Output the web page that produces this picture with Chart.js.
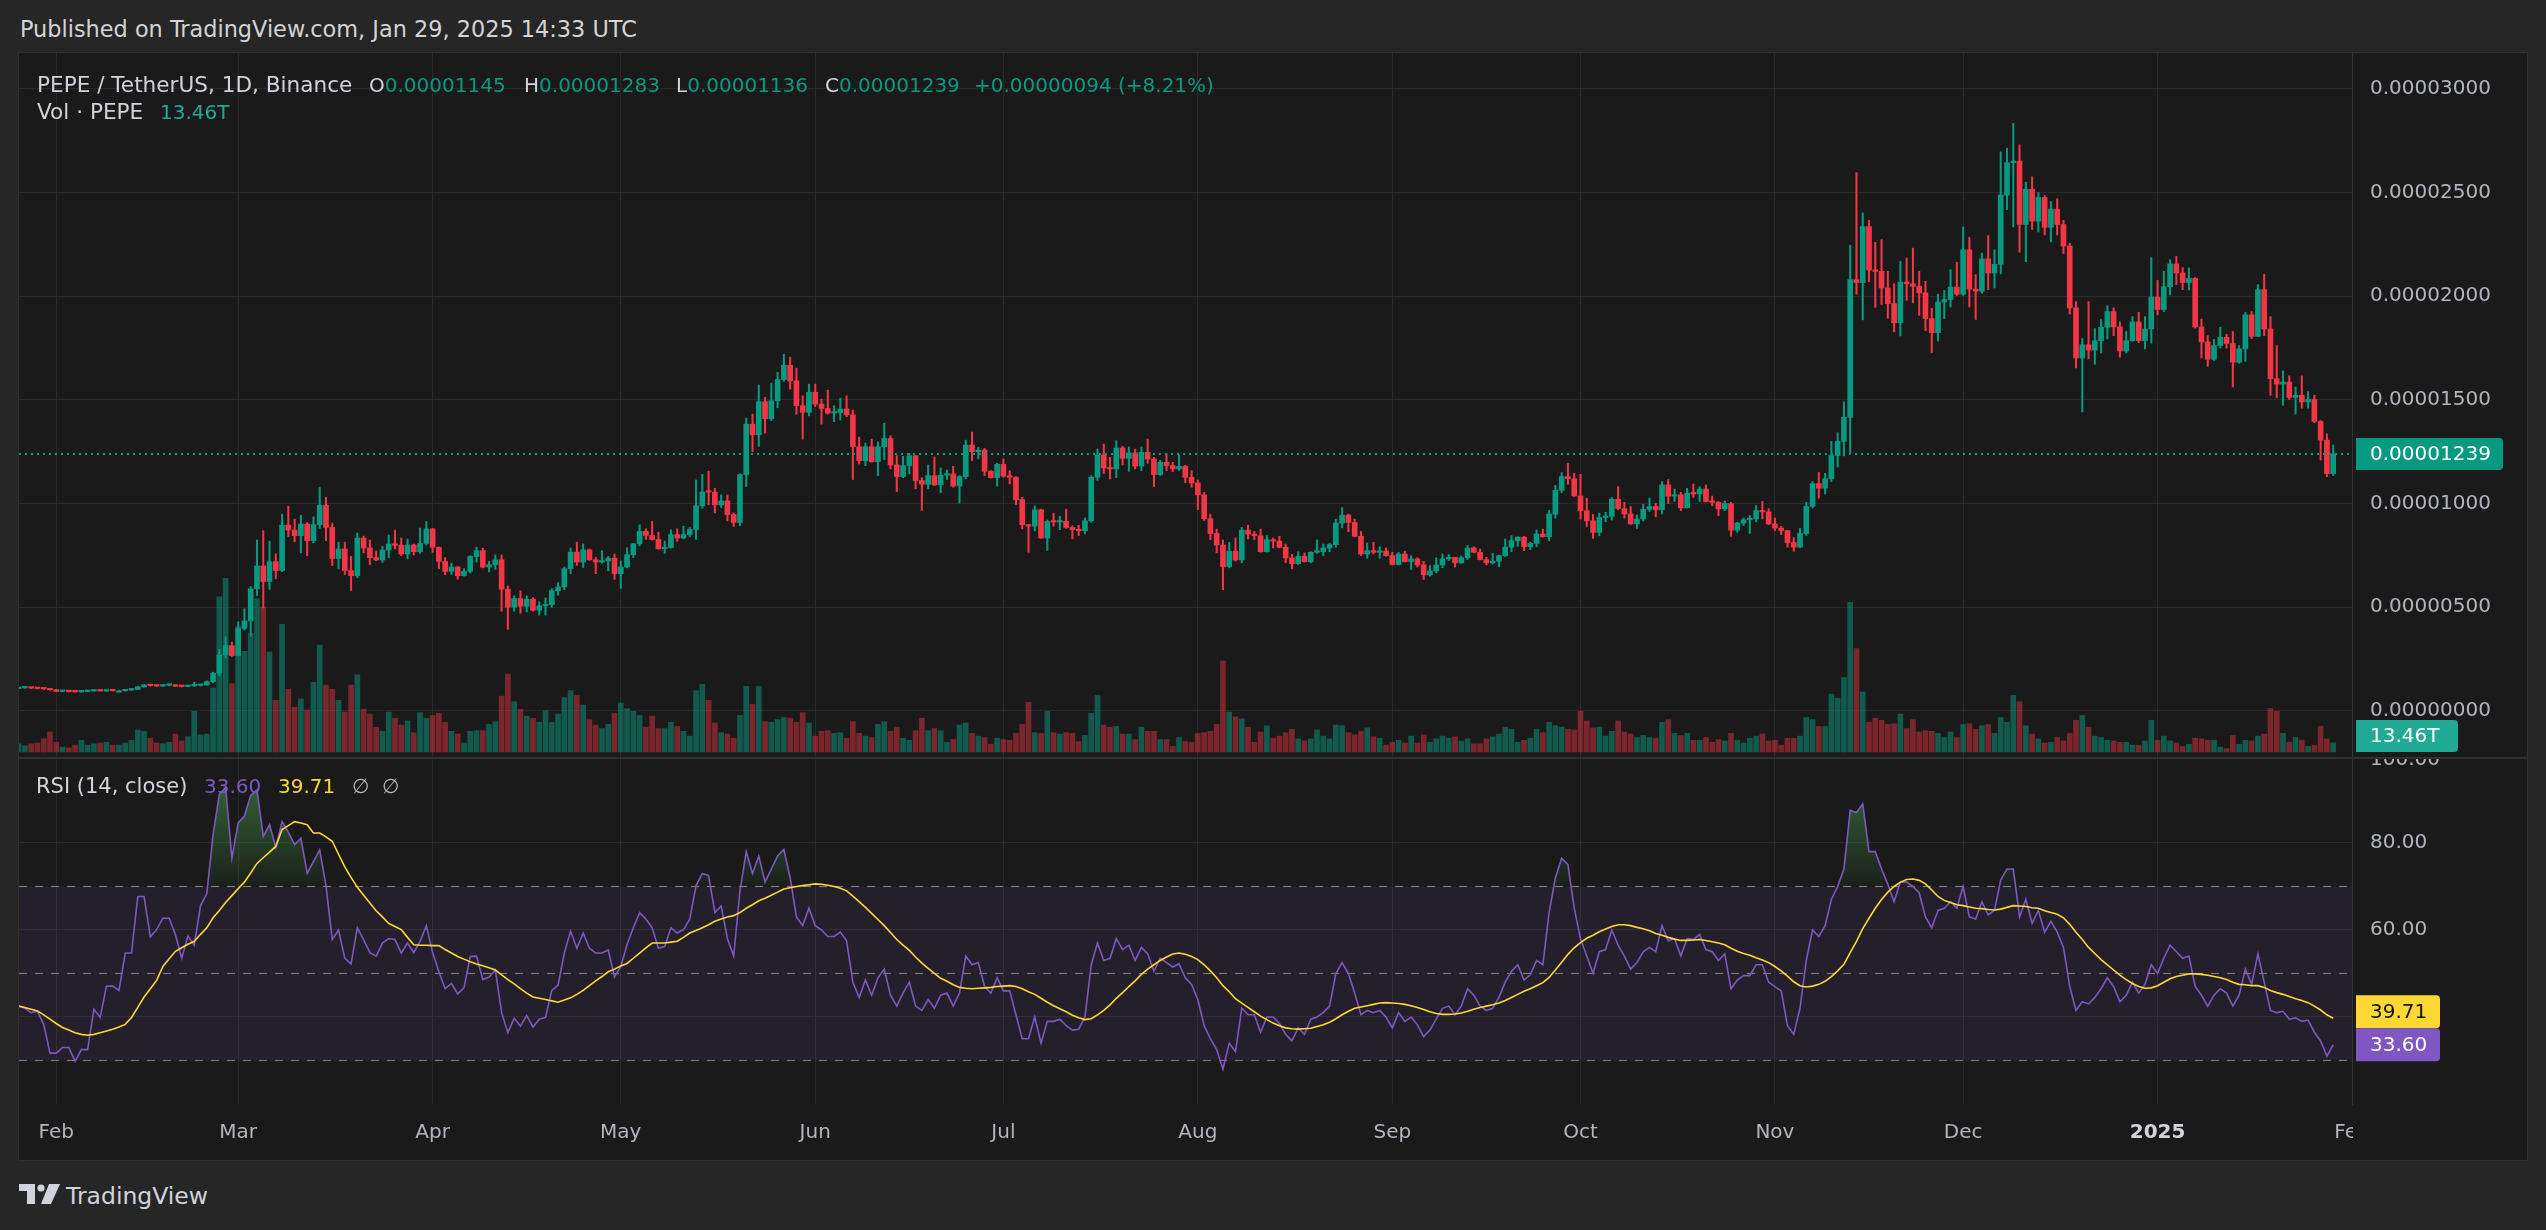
<!DOCTYPE html>
<html>
<head>
<meta charset="utf-8">
<script src="https://cdn.jsdelivr.net/npm/chart.js@4.4.1/dist/chart.umd.min.js"></script>
<style>
  html, body { margin: 0; padding: 0; background: #262626; width: 2546px; height: 1230px; overflow: hidden; font-family: 'DejaVu Sans', sans-serif; }
  #panel { position: absolute; left: 18px; top: 52px; width: 2510px; height: 1109px; background: #1a1a1a; border: 1px solid #303030; box-sizing: border-box; }
  canvas { position: absolute; }
  .t { position: absolute; white-space: nowrap; font-size: 20px; line-height: 24px; color: #d1d4dc; }
  .g { color: #089981; }
</style>
</head>
<body>
<div id="panel"></div>
<canvas id="priceCanvas" width="2508" height="705" style="left:19px;top:53px"></canvas>
<div style="position:absolute;left:19px;top:757px;width:2508px;height:2px;background:#303030"></div>
<canvas id="rsiCanvas" width="2508" height="401" style="left:19px;top:759px"></canvas>

<div class="t" style="left:20px;top:16px;font-size:22.4px;line-height:26px;color:#d3d4d6">Published on TradingView.com, Jan 29, 2025 14:33 UTC</div>

<div class="t" style="left:37px;top:72px;font-size:21.6px;line-height:26px">PEPE / TetherUS, 1D, Binance</div>
<div class="t" style="left:369px;top:73px">O<span class="g">0.00001145</span></div>
<div class="t" style="left:524px;top:73px">H<span class="g">0.00001283</span></div>
<div class="t" style="left:676px;top:73px">L<span class="g">0.00001136</span></div>
<div class="t" style="left:825px;top:73px">C<span class="g">0.00001239</span></div>
<div class="t g" style="left:974px;top:73px">+0.00000094 (+8.21%)</div>
<div class="t" style="left:37px;top:99px;font-size:21.6px;line-height:26px">Vol · PEPE</div>
<div class="t" style="left:160px;top:100px;color:#22ab94">13.46T</div>

<div class="t" style="left:36px;top:773px;font-size:21px;line-height:26px">RSI (14, close)</div>
<div class="t" style="left:204px;top:774px;color:#7e57c2">33.60</div>
<div class="t" style="left:278px;top:774px;color:#fdd835">39.71</div>
<div class="t" style="left:352px;top:774px;color:#b2b5be">∅</div>
<div class="t" style="left:382px;top:774px;color:#b2b5be">∅</div>

<svg style="position:absolute;left:19px;top:1184px" width="42" height="21" viewBox="0 0 42 21">
  <path d="M0 0h16v20H8V7H0z" fill="#d1d4dc"/>
  <circle cx="22" cy="4" r="3.6" fill="#d1d4dc"/>
  <path d="M30 0h11l-9 20H22z" fill="#d1d4dc"/>
</svg>
<div class="t" style="left:66px;top:1181px;font-size:23.5px;line-height:30px">TradingView</div>

<script>
Chart.defaults.color = '#b2b5be';
Chart.defaults.font.family = "'DejaVu Sans', sans-serif";

// day index 0 = 2024-02-01, first candle = 2024-01-26
const firstDay = -6;
const xMin = -5.94, xMax = 366;

const monthTickDays = [0, 29, 60, 90, 121, 151, 182, 213, 243, 274, 304, 335, 366];
const monthTickLabels = ['Feb', 'Mar', 'Apr', 'May', 'Jun', 'Jul', 'Aug', 'Sep', 'Oct', 'Nov', 'Dec', '2025', 'Feb'];
const priceTicks = [0, 500, 1000, 1500, 2000, 2500, 3000];   // 1e-8 USDT
const rsiTicks = [40, 60, 80];

// prices in 1e-8 USDT
const priceOpen = [
  108,111,113,110,108,106,102,94,95,93,
  92,94,96,99,96,100,97,97,101,104,
  116,126,122,120,124,126,119,118,121,123,
  125,141,182,270,315,267,398,434,589,699,
  624,720,677,896,872,845,901,821,898,992,
  885,735,781,677,652,834,786,739,728,776,
  805,799,757,800,768,808,878,789,721,673,
  694,652,673,745,773,694,705,729,587,500,
  542,505,539,486,507,513,580,598,686,766,
  718,777,729,718,723,737,662,694,753,806,
  866,846,827,782,788,850,834,851,875,989,
  1056,1055,994,1013,947,909,1140,1383,1332,1491,
  1409,1496,1598,1667,1592,1472,1440,1537,1480,1459,
  1436,1439,1456,1428,1274,1207,1274,1202,1274,1314,
  1186,1130,1183,1231,1111,1093,1135,1090,1137,1143,
  1085,1130,1282,1250,1258,1156,1125,1189,1132,1127,
  1019,898,891,970,834,914,911,915,885,874,
  869,917,1127,1234,1172,1167,1268,1218,1244,1181,
  1247,1215,1140,1199,1183,1167,1180,1127,1100,1042,
  927,856,800,696,770,728,872,853,845,768,
  826,819,789,738,710,746,720,765,768,786,
  802,906,944,909,842,757,773,765,771,749,
  706,757,720,733,704,656,675,704,733,741,
  714,739,786,765,730,714,722,749,790,821,
  838,792,808,853,840,949,1064,1130,1120,1037,
  965,917,861,933,939,1021,976,950,902,926,
  972,986,970,1090,1036,1042,980,1050,1046,1070,
  1010,1006,974,1000,872,906,922,926,966,960,
  902,882,870,812,790,856,986,1096,1074,1120,
  1232,1300,1416,2080,2066,2336,2126,2120,2040,1964,
  1872,2068,2060,2048,2016,1892,1824,1972,1984,2044,
  2010,2224,2034,2024,2180,2112,2154,2488,2644,2652,
  2346,2516,2362,2476,2332,2420,2346,2242,1944,1702,
  1766,1740,1786,1850,1926,1852,1736,1786,1876,1786,
  1842,1996,1936,2046,2156,2112,2066,2086,1852,1780,
  1696,1762,1802,1772,1682,1746,1910,1806,2032,1842,
  1602,1576,1586,1512,1522,1490,1502,1396,1306,1145
];
const priceHigh = [
  113,114,114,112,110,107,104,97,97,96,
  95,97,100,100,101,101,99,102,106,117,
  127,128,125,126,127,127,122,123,139,127,
  145,187,297,358,331,430,493,600,824,869,
  819,757,949,987,925,944,909,936,1078,1030,
  906,814,814,746,858,843,824,771,794,848,
  872,834,829,805,882,915,880,791,740,713,
  697,686,748,790,785,721,752,752,603,555,
  579,555,545,526,545,590,619,694,785,814,
  806,780,740,773,745,757,723,787,808,898,
  878,915,862,820,874,878,891,885,1114,1141,
  1156,1074,1042,1042,955,1143,1412,1431,1571,1512,
  1581,1633,1720,1706,1653,1520,1576,1576,1504,1547,
  1472,1508,1520,1451,1321,1292,1311,1298,1388,1327,
  1231,1228,1242,1231,1125,1186,1225,1172,1162,1180,
  1135,1306,1345,1271,1266,1159,1194,1215,1159,1130,
  1031,900,989,973,921,954,939,973,892,895,
  931,1135,1263,1287,1223,1303,1276,1273,1262,1273,
  1311,1223,1209,1241,1199,1236,1185,1159,1114,1054,
  949,877,824,813,834,885,896,866,877,846,
  834,842,805,755,768,762,768,824,805,808,
  925,981,949,925,866,810,813,792,786,765,
  765,770,749,739,722,701,738,757,754,741,
  747,798,792,781,741,760,752,829,845,840,
  842,813,872,877,968,1088,1149,1194,1146,1141,
  1026,947,954,958,1029,1082,1006,986,946,996,
  1026,1002,1106,1116,1070,1054,1074,1094,1082,1090,
  1036,1010,1012,1006,910,930,942,990,1010,976,
  930,890,870,836,880,1006,1106,1150,1146,1300,
  1342,1490,2246,2596,2402,2366,2260,2274,2120,2060,
  2168,2184,2232,2120,2072,1942,2010,2028,2128,2164,
  2334,2284,2104,2208,2292,2224,2696,2714,2834,2730,
  2550,2576,2500,2486,2456,2470,2366,2256,1974,1796,
  1974,1844,1888,1954,1944,1876,1830,1902,1922,1902,
  2186,2076,2120,2176,2192,2138,2136,2090,1890,1810,
  1792,1850,1816,1830,1762,1922,1926,2056,2106,1902,
  1762,1640,1616,1562,1616,1540,1522,1400,1336,1283
];
const priceLow = [
  106,109,108,106,104,100,92,92,91,91,
  90,92,95,95,95,96,95,96,98,103,
  115,120,118,118,121,117,115,116,118,120,
  124,135,170,255,262,265,390,361,557,497,
  586,637,672,840,816,762,749,811,880,821,
  701,685,658,581,642,762,706,725,716,739,
  781,749,733,752,760,800,765,686,657,659,
  635,650,665,718,690,670,683,481,393,481,
  471,478,481,462,462,500,558,585,662,702,
  692,726,662,713,676,635,591,690,740,796,
  827,824,780,760,785,818,830,840,827,978,
  994,955,981,917,890,894,1082,1250,1276,1340,
  1400,1462,1590,1552,1431,1311,1423,1468,1383,1431,
  1395,1403,1419,1116,1191,1183,1199,1135,1212,1167,
  1058,1125,1143,1071,967,1071,1087,1053,1116,1079,
  1002,1119,1207,1215,1135,1123,1084,1127,1095,995,
  878,765,869,832,774,891,874,880,830,846,
  854,910,1111,1145,1119,1125,1186,1156,1167,1159,
  1194,1082,1135,1159,1154,1160,1100,1079,971,919,
  826,762,584,690,723,715,829,826,765,766,
  786,786,715,685,706,717,714,760,749,768,
  790,883,864,840,749,736,757,736,746,704,
  704,718,682,694,634,650,666,691,725,694,
  712,730,762,728,704,709,696,745,768,794,
  773,778,792,838,821,930,1053,1093,1034,925,
  890,832,845,912,920,970,930,900,880,916,
  962,936,950,1000,1010,966,978,1030,1010,1008,
  990,942,966,842,862,894,856,912,926,898,
  870,850,790,770,788,846,978,1026,1046,1106,
  1176,1230,1246,2010,1886,2070,1946,1960,1894,1828,
  1808,1980,1968,1908,1834,1728,1784,1892,1948,2004,
  2004,1948,1888,2014,2032,2040,2108,2418,2334,2212,
  2166,2322,2310,2296,2262,2296,2206,1914,1654,1442,
  1698,1672,1726,1794,1810,1706,1726,1782,1776,1746,
  1774,1910,1926,2006,2056,2032,2030,1846,1702,1662,
  1690,1750,1750,1562,1676,1686,1796,1806,1810,1522,
  1510,1474,1502,1432,1460,1460,1390,1210,1130,1136
];
const priceClose = [
  111,113,110,108,106,102,94,95,93,92,
  94,96,99,96,100,97,97,101,104,116,
  126,122,120,124,126,119,118,121,123,125,
  141,182,270,315,267,398,434,589,699,624,
  720,677,896,872,845,901,821,898,992,885,
  735,781,677,652,834,786,739,728,776,805,
  799,757,800,768,808,878,789,721,673,694,
  652,673,745,773,694,705,729,587,500,542,
  505,539,486,507,513,580,598,686,766,718,
  777,729,718,723,737,662,694,753,806,866,
  846,827,782,788,850,834,851,875,989,1056,
  1055,994,1013,947,909,1140,1383,1332,1491,1409,
  1496,1598,1667,1592,1472,1440,1537,1480,1459,1436,
  1439,1456,1428,1274,1207,1274,1202,1274,1314,1186,
  1130,1183,1231,1111,1093,1135,1090,1137,1143,1085,
  1130,1282,1250,1258,1156,1125,1189,1132,1127,1019,
  898,891,970,834,914,911,915,885,874,869,
  917,1127,1234,1172,1167,1268,1218,1244,1181,1247,
  1215,1140,1199,1183,1167,1180,1127,1100,1042,927,
  856,800,696,770,728,872,853,845,768,826,
  819,789,738,710,746,720,765,768,786,802,
  906,944,909,842,757,773,765,771,749,706,
  757,720,733,704,656,675,704,733,741,714,
  739,786,765,730,714,722,749,790,821,838,
  792,808,853,840,949,1064,1130,1120,1037,965,
  917,861,933,939,1021,976,950,902,926,972,
  986,970,1090,1036,1042,980,1050,1046,1070,1010,
  1006,974,1000,872,906,922,926,966,960,902,
  882,870,812,790,856,986,1096,1074,1120,1232,
  1300,1416,2080,2066,2336,2126,2120,2040,1964,1872,
  2068,2060,2048,2016,1892,1824,1972,1984,2044,2010,
  2224,2034,2024,2180,2112,2154,2488,2644,2652,2346,
  2516,2362,2476,2332,2420,2346,2242,1944,1702,1766,
  1740,1786,1850,1926,1852,1736,1786,1876,1786,1842,
  1996,1936,2046,2156,2112,2066,2086,1852,1780,1696,
  1762,1802,1772,1682,1746,1910,1806,2032,1842,1602,
  1576,1586,1512,1522,1490,1502,1396,1306,1145,1239
];
// volume in trillions of PEPE
const volumeT = [
  12,9,12,13,19,29,14,7,6,10,
  17,10,12,13,14,10,10,13,17,32,
  30,20,13,12,14,26,16,22,59,25,
  26,93,225,252,99,182,146,172,222,210,
  145,75,185,91,65,77,61,101,155,97,
  91,75,58,97,112,62,55,36,30,58,
  49,39,45,28,57,49,53,56,43,30,
  26,13,30,31,31,40,44,81,113,73,
  62,52,49,43,60,43,55,79,89,82,
  68,47,39,34,40,56,71,63,59,53,
  36,52,34,34,43,37,30,23,89,98,
  75,42,28,26,20,53,95,69,95,44,
  43,47,50,49,43,57,42,23,30,31,
  27,28,20,44,27,23,21,40,44,30,
  36,20,17,31,49,31,34,31,14,18,
  39,42,27,23,21,11,20,18,17,27,
  40,72,28,27,59,28,26,28,27,15,
  24,56,82,39,36,37,26,26,18,36,
  30,30,18,18,8,21,15,14,27,28,
  30,40,132,58,51,48,36,14,29,38,
  20,23,28,33,19,16,19,32,23,19,
  39,38,28,25,30,35,22,20,10,14,
  17,13,23,13,25,14,19,23,20,22,
  16,19,12,12,19,22,26,36,33,14,
  17,20,33,28,43,38,36,33,32,59,
  45,35,36,23,30,45,29,26,21,24,
  21,20,43,47,27,24,27,17,17,21,
  14,18,16,27,17,13,20,23,26,16,
  17,10,20,20,23,50,47,37,37,84,
  78,108,217,150,87,43,49,46,40,41,
  55,34,47,29,31,30,27,21,29,21,
  40,41,33,38,40,27,50,43,82,73,
  38,26,19,13,14,21,16,27,46,53,
  36,23,21,17,16,14,14,10,10,16,
  46,17,23,16,13,8,11,20,19,17,
  17,7,5,24,11,17,16,23,26,63,
  59,27,14,21,17,8,10,37,19,13.46
];
const rsiValues = [
  42.5,42,41,41.3,38.3,31.7,31.7,33,33,29.8,
  32.5,32.5,41.8,39.9,47.1,47.1,46.1,54.7,54.7,67.7,
  67.7,58.4,60.1,62.7,62.7,58.9,53.5,58.6,56.5,65.6,
  68.3,81.9,91.2,92.8,76.5,84.6,86.2,90.9,92.2,81.5,
  84.2,79,84.9,82.5,79.6,81.1,73,75.7,78.4,70.2,
  57.8,60,53.5,52.2,60.5,57.8,54.8,54,57,58,
  57.8,54.7,57,54.8,57.4,61,54.8,50.4,46.5,47.7,
  45.3,46.7,53.9,54,48.6,49.2,50.8,41,36.4,39.7,
  37.9,40.3,37.7,39.5,39.9,46.1,47.3,54.7,59.7,55.8,
  59.3,55.8,54.7,54.7,55.4,49.2,51.6,56.6,60.5,64,
  62.5,60.5,55.8,56.2,60.5,59.3,60.1,62.5,70.2,73,
  72.5,64,65.5,58,54,69,78,73,77,71,
  74,77,78.5,72,63,61,65,61,60,58.5,
  58.5,59.5,57.5,48,44.5,48.5,45,49,51,45,
  42.5,45.5,48,42.5,41.5,44,42,45,45.5,42.5,
  45.5,54,52,52.5,47,45.5,49,46,46,40.5,
  35,35,40,34,39,39,39.5,38,37,37.2,
  40,52,57,53,53.5,58,55.5,56.5,53,56,
  54.5,50.5,53.5,52.5,51.5,52.2,49,47.5,44,38,
  35,32.5,28,34,32,42,40.5,40.5,36.5,40,
  40,38.5,36,34.5,37.5,36,39.5,40,41,42.5,
  50,52.5,50,45.5,40.5,41.5,41,41.5,40,37.5,
  41,39,40,38.2,35.5,37,39.5,42,42.5,40.5,
  42.5,46.5,45,42.5,41.5,42,44.5,48,50.5,52,
  48.5,49.7,53,52,64,72,76.5,75,65,58,
  54,50,55,55.5,60,56.5,54,51,52.5,55,
  56,55,61,57.5,58,54,58,57.8,59,55.5,
  55,53,54.5,46.5,48.5,49.5,49.5,52,52,48,
  47,46,38,36,42,53,60,58.5,61,67,
  70,74,87.5,87,89,78,78,74,70.5,66.5,
  71,71,70,68.5,63,60.5,64.5,65,66.5,65,
  70,63,62.5,66.5,63.5,64.5,71.5,74,74,63,
  67,61.5,64.5,59.5,62,59.5,56,47,41.5,43.5,
  43,44.5,46.5,49,47,43.5,45,48,45.5,47.5,
  52,50,53.5,56.5,55,53.5,54,47,45,42.5,
  45,46.5,45.5,42.5,45,51,47.5,54.5,48,41.5,
  41,41.3,39.5,39.8,39,39.3,36.5,34.5,31,33.6
];
const rsiMaValues = [
  42.5,42.2,41.8,41.4,40.5,39.5,38.5,37.6,37,36.4,
  36,35.8,36,36.4,36.8,37.2,37.7,38.3,39.9,42.2,
  44.6,46.5,48.4,51.6,53.4,55.1,55.9,56.7,57.4,59,
  60.5,62.8,64.5,66.3,67.9,69.5,71,73.1,75.3,76.6,
  77.9,79.2,83.1,84,84.9,84.6,84.2,82.3,82.3,81.4,
  80.4,77.4,74.5,72.1,69.8,68,66.2,64.4,63,61.5,
  60.8,60.1,58.3,56.6,56.5,56.5,56.4,56.4,55.5,54.7,
  53.9,53.3,52.7,52.2,51.8,51.3,50.8,49.7,48.6,47.6,
  46.5,45.5,44.6,44.3,44,43.7,43.4,43.9,44.4,45.2,
  46.1,47.2,48.3,49.3,50.4,51,51.7,52.3,53.5,54.7,
  55.9,57,57,57,57.2,57.4,58.3,59.3,59.9,60.5,
  61.2,62,62.5,63,63.3,64,65,65.8,66.7,67.3,
  68,68.7,69.4,69.7,70,70.2,70.4,70.6,70.5,70.3,
  70,69.6,69,67.8,66.5,65.2,63.8,62.4,61,59.4,
  57.8,56.5,55.3,53.8,52.4,51.2,50,48.9,48.2,47.4,
  46.8,46.6,46.5,46.6,46.7,46.8,47,47.1,47.2,47,
  46.5,45.8,45.2,44.3,43.4,42.6,41.9,41.2,40.4,39.8,
  39.4,39.6,40.5,41.5,42.8,44.3,45.6,47,48.3,49.8,
  51,52,53,53.8,54.5,54.7,54.4,53.9,53.2,52,
  50.6,49,47.2,45.8,44.2,43.2,42.2,41.2,40.2,39.4,
  38.6,38,37.5,37.3,37.2,37.3,37.4,37.8,38.2,38.8,
  39.6,40.5,41.3,42,42.3,42.6,42.9,43.2,43.3,43.2,
  43.1,42.9,42.6,42.2,41.7,41.2,40.8,40.6,40.6,40.7,
  40.9,41.3,41.8,42.2,42.5,42.8,43.2,43.8,44.5,45.2,
  45.9,46.5,47.2,47.9,49.1,50.8,52.6,54.4,55.9,57.1,
  58.1,58.8,59.6,60.2,60.8,61.2,61.2,61,60.6,60.3,
  59.8,59.2,58.8,58.3,57.9,57.6,57.6,57.7,57.8,57.6,
  57.3,57,56.6,55.8,55.1,54.6,54.2,53.6,53.1,52.5,
  51.6,50.6,49.4,48.1,47.2,46.9,47.1,47.5,48.2,49.3,
  50.6,52.1,54.8,57.4,60.3,62.7,65,67,68.7,70,
  71,71.6,71.7,71.4,70.6,69.2,67.7,66.8,66.3,65.8,
  65.6,65.3,65,64.9,64.7,64.6,64.8,65.2,65.6,65.5,
  65.4,65.1,65,64.4,64,63.6,62.8,61.3,59.5,57.8,
  56,54.6,53.2,52,50.8,49.6,48.6,47.7,47,46.6,
  46.7,47.2,48,48.8,49.3,49.6,49.9,49.9,49.8,49.6,
  49.3,49,48.6,48,47.5,47.4,47.2,47.2,46.8,46.1,
  45.6,45.2,44.7,44.2,43.8,43.3,42.5,41.6,40.5,39.71
];

const upColor = '#089981', downColor = '#f23645';
const volUp = 'rgba(8,153,129,0.5)', volDown = 'rgba(242,54,69,0.45)';
const rsiColor = '#7e57c2', maColor = '#fdd835';
const gridColor = '#2a2a2a', axisLine = '#363636', bgColor = '#1a1a1a';

const days = priceClose.map((_, i) => firstDay + i);
const candleColors = days.map((_, i) => priceClose[i] >= priceOpen[i] ? upColor : downColor);
const lastClose = priceClose[priceClose.length - 1];
const lastVolume = volumeT[volumeT.length - 1];
const lastRsi = rsiValues[rsiValues.length - 1];
const lastRsiMa = rsiMaValues[rsiMaValues.length - 1];

function drawTag(ctx, x, yc, w, h, fill, textColor, text) {
  ctx.save();
  ctx.fillStyle = fill;
  ctx.beginPath();
  ctx.roundRect(x, yc - h / 2, w, h, [0, 4, 4, 0]);
  ctx.fill();
  ctx.fillStyle = textColor;
  ctx.font = "20px 'DejaVu Sans', sans-serif";
  ctx.textBaseline = 'middle';
  ctx.textAlign = 'left';
  ctx.fillText(text, x + 14, yc + 1);
  ctx.restore();
}

const monthScale = s => { s.ticks = monthTickDays.map(v => ({ value: v })); };

// price pane tags
const priceTags = {
  id: 'priceTags',
  afterDraw(chart) {
    const { ctx, scales, chartArea } = chart;
    const x0 = chartArea.right + 4;
    drawTag(ctx, x0, scales.y.getPixelForValue(lastClose), 147, 32, upColor, '#ffffff', (lastClose / 1e8).toFixed(8));
    const vy = Math.min(scales.yVol.getPixelForValue(lastVolume), chartArea.bottom - 22);
    drawTag(ctx, x0, vy, 102, 32, '#22ab94', '#ffffff', lastVolume.toFixed(2) + 'T');
  }
};

new Chart(document.getElementById('priceCanvas'), {
  type: 'bar',
  data: {
    datasets: [
      { label: 'Volume', yAxisID: 'yVol', data: days.map((d, i) => ({ x: d, y: volumeT[i] })),
        backgroundColor: days.map((_, i) => priceClose[i] >= priceOpen[i] ? volUp : volDown),
        barThickness: 5, grouped: false, order: 4 },
      { label: 'Wick', yAxisID: 'y', data: days.map((d, i) => ({ x: d, y: [priceLow[i], priceHigh[i]] })),
        backgroundColor: candleColors, barThickness: 1.4, grouped: false, order: 3 },
      { label: 'Body', yAxisID: 'y', data: days.map((d, i) => ({ x: d, y: [priceOpen[i], priceClose[i]] })),
        backgroundColor: candleColors, barThickness: 5, minBarLength: 1.5, grouped: false, order: 2 },
      { type: 'line', label: 'Last', yAxisID: 'y', data: [{ x: xMin, y: lastClose }, { x: xMax, y: lastClose }],
        borderColor: upColor, borderWidth: 2, borderDash: [2, 4], pointRadius: 0, order: 1 }
    ]
  },
  options: {
    responsive: false, animation: false, devicePixelRatio: 1,
    layout: { padding: 0 },
    plugins: { legend: { display: false }, tooltip: { enabled: false } },
    scales: {
      x: { type: 'linear', min: xMin, max: xMax, offset: false,
        grid: { color: gridColor, offset: false, drawTicks: false }, border: { display: false },
        ticks: { display: false }, afterBuildTicks: monthScale,
        afterFit: s => { s.height = 0; s.paddingLeft = 0; s.paddingRight = 0; } },
      y: { position: 'right', min: -227, max: 3173,
        grid: { color: gridColor, drawTicks: false }, border: { color: axisLine },
        ticks: { color: '#b2b5be', padding: 18, font: { size: 20 }, callback: v => (v / 1e8).toFixed(8) },
        afterBuildTicks: s => { s.ticks = priceTicks.map(v => ({ value: v })); },
        afterFit: s => { s.width = 175; s.paddingTop = 0; s.paddingBottom = 0; } },
      yVol: { display: false, min: -8.7, max: 1013.6 }
    }
  },
  plugins: [priceTags]
});

// RSI pane
const rctx = document.getElementById('rsiCanvas').getContext('2d');
const obGrad = rctx.createLinearGradient(0, 0, 0, 128);
obGrad.addColorStop(0, 'rgba(76,175,80,0.6)');
obGrad.addColorStop(1, 'rgba(76,175,80,0.04)');
const osGrad = rctx.createLinearGradient(0, 301, 0, 345);
osGrad.addColorStop(0, 'rgba(242,54,69,0.04)');
osGrad.addColorStop(1, 'rgba(242,54,69,0.6)');

const rsiBands = {
  id: 'rsiBands',
  beforeDatasetsDraw(chart) {
    const { ctx, chartArea, scales } = chart;
    const y = scales.y;
    ctx.save();
    ctx.fillStyle = 'rgba(126,87,194,0.1)';
    ctx.fillRect(chartArea.left, y.getPixelForValue(70), chartArea.width, y.getPixelForValue(30) - y.getPixelForValue(70));
    ctx.strokeStyle = 'rgba(140,140,140,0.85)';
    ctx.lineWidth = 1.2;
    ctx.setLineDash([8, 8]);
    [70, 50, 30].forEach(v => {
      const py = Math.round(y.getPixelForValue(v)) + 0.5;
      ctx.beginPath(); ctx.moveTo(chartArea.left, py); ctx.lineTo(chartArea.right, py); ctx.stroke();
    });
    ctx.restore();
  },
  afterDraw(chart) {
    const { ctx, chartArea, scales } = chart;
    const y = scales.y;
    ctx.save();
    ctx.fillStyle = bgColor;
    ctx.fillRect(chartArea.right + 1, chartArea.bottom + 1, chart.width - chartArea.right, chart.height - chartArea.bottom);
    ctx.fillStyle = '#b2b5be';
    ctx.font = "20px 'DejaVu Sans', sans-serif";
    ctx.textBaseline = 'middle';
    ctx.fillText('100.00', chartArea.right + 18, 1);
    ctx.restore();
    const x0 = chartArea.right + 4;
    const py = y.getPixelForValue(lastRsi);
    const my = Math.min(y.getPixelForValue(lastRsiMa), py - 33);
    drawTag(ctx, x0, my, 84, 33, maColor, '#131313', lastRsiMa.toFixed(2));
    drawTag(ctx, x0, py, 84, 33, rsiColor, '#ffffff', lastRsi.toFixed(2));
  }
};

new Chart(rctx, {
  type: 'line',
  data: {
    datasets: [
      { label: 'RSI', data: days.map((d, i) => ({ x: d, y: rsiValues[i] })), borderColor: rsiColor, borderWidth: 1.6,
        pointRadius: 0, tension: 0, fill: { value: 70, above: obGrad, below: 'rgba(0,0,0,0)' }, order: 2 },
      { label: 'RSI oversold', data: days.map((d, i) => ({ x: d, y: rsiValues[i] })), borderColor: 'rgba(0,0,0,0)', borderWidth: 0,
        pointRadius: 0, tension: 0, fill: { value: 30, above: 'rgba(0,0,0,0)', below: osGrad }, order: 3 },
      { label: 'RSI MA', data: days.map((d, i) => ({ x: d, y: rsiMaValues[i] })), borderColor: maColor, borderWidth: 1.6,
        pointRadius: 0, tension: 0, fill: false, order: 1 }
    ]
  },
  options: {
    responsive: false, animation: false, devicePixelRatio: 1,
    layout: { padding: 0 },
    plugins: { legend: { display: false }, tooltip: { enabled: false } },
    scales: {
      x: { type: 'linear', min: xMin, max: xMax, offset: false,
        grid: { color: gridColor, drawTicks: false }, border: { display: false },
        ticks: { autoSkip: false, maxRotation: 0, padding: 17,
          color: c => (c.tick && c.tick.value === 335) ? '#d1d4dc' : '#b2b5be',
          font: c => ({ size: 20, weight: (c.tick && c.tick.value === 335) ? 'bold' : 'normal' }),
          callback: v => monthTickLabels[monthTickDays.indexOf(v)] },
        afterBuildTicks: monthScale,
        afterFit: s => { s.height = 56; s.paddingLeft = 0; s.paddingRight = 0; } },
      y: { position: 'right', min: 20, max: 99.3,
        grid: { color: gridColor, drawTicks: false }, border: { color: axisLine },
        ticks: { color: '#b2b5be', padding: 18, font: { size: 20 }, callback: v => v.toFixed(2) },
        afterBuildTicks: s => { s.ticks = rsiTicks.map(v => ({ value: v })); },
        afterFit: s => { s.width = 175; s.paddingTop = 0; s.paddingBottom = 0; } }
    }
  },
  plugins: [rsiBands]
});
</script>
</body>
</html>
